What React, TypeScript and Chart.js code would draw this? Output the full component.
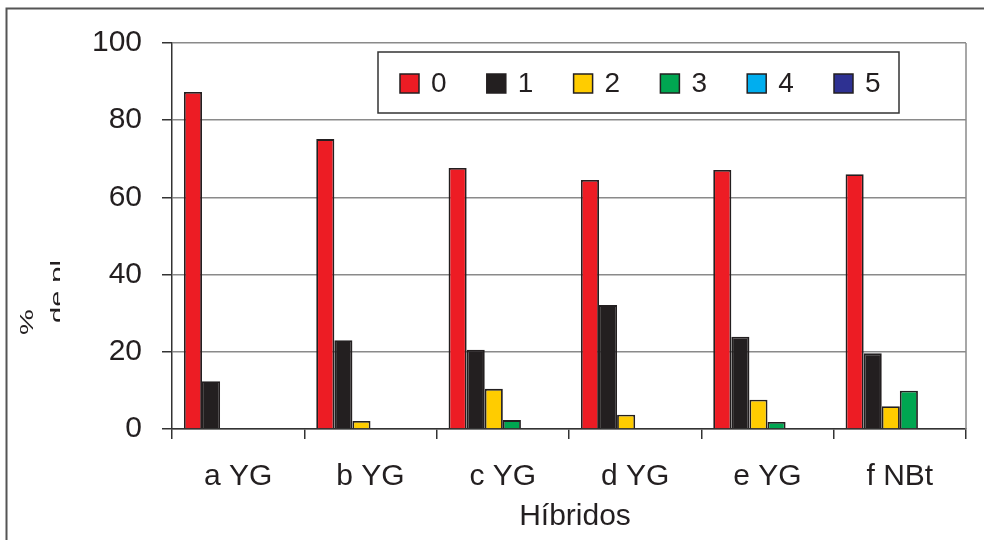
import React, { useEffect, useRef } from "react";
import { Chart, registerables } from "chart.js";

Chart.register(...registerables);

// Hybrids on the category axis
const categories = ["a YG", "b YG", "c YG", "d YG", "e YG", "f NBt"];

// Share of plants (%) in each damage class 0..5
const class0 = [87.3, 75.1, 67.6, 64.5, 67.1, 66.0];
const class1 = [12.4, 23.0, 20.5, 32.1, 23.9, 19.6];
const class2 = [0, 2.1, 10.4, 3.7, 7.6, 5.9];
const class3 = [0, 0, 2.3, 0, 1.8, 9.9];
const class4 = [0, 0, 0, 0, 0, 0];
const class5 = [0, 0, 0, 0, 0, 0];

const classLabels = ["0", "1", "2", "3", "4", "5"];
const classColors = ["#ed1c24", "#231f20", "#ffcc00", "#00a651", "#00aeef", "#2e3192"];

const yTicks = [0, 20, 40, 60, 80, 100];

const FONT = "'Liberation Sans', Arial, sans-serif";
const INK = "#231f20";

// Frame, plot border, axis titles and the boxed legend
const decorations = {
  id: "decorations",
  beforeDraw(chart: any) {
    const { ctx, width, height } = chart;
    ctx.save();
    ctx.fillStyle = "#ffffff";
    ctx.fillRect(0, 0, width, height);
    ctx.strokeStyle = "#555555";
    ctx.lineWidth = 2;
    ctx.beginPath();
    ctx.moveTo(6.5, height);
    ctx.lineTo(6.5, 8.5);
    ctx.lineTo(width, 8.5);
    ctx.stroke();
    ctx.restore();
  },
  afterDraw(chart: any) {
    const { ctx, chartArea } = chart;
    ctx.save();

    // right edge of the plot
    ctx.strokeStyle = "#8a8a8a";
    ctx.lineWidth = 1.5;
    ctx.beginPath();
    ctx.moveTo(chartArea.right, chartArea.top);
    ctx.lineTo(chartArea.right, chartArea.bottom);
    ctx.stroke();

    // x axis title
    ctx.fillStyle = INK;
    ctx.font = `30px ${FONT}`;
    ctx.textAlign = "center";
    ctx.textBaseline = "middle";
    ctx.fillText("Híbridos", 575, 517);

    // y axis title (condensed), its second line cut off by the title box
    ctx.font = `29px ${FONT}`;
    ctx.textBaseline = "alphabetic";
    ctx.save();
    ctx.translate(33, 322);
    ctx.scale(0.62, 1);
    ctx.rotate(-Math.PI / 2);
    ctx.textAlign = "center";
    ctx.fillText("%", 0, 0);
    ctx.restore();

    ctx.save();
    ctx.beginPath();
    ctx.rect(46, 240, 14, 100);
    ctx.clip();
    ctx.translate(63, 323);
    ctx.scale(0.62, 1);
    ctx.rotate(-Math.PI / 2);
    ctx.textAlign = "left";
    ctx.fillText("de pl", 0, 0);
    ctx.restore();

    // legend box
    ctx.strokeStyle = "#333333";
    ctx.lineWidth = 1.5;
    ctx.fillStyle = "#ffffff";
    ctx.fillRect(378, 52, 521, 61);
    ctx.strokeRect(378, 52, 521, 61);

    ctx.font = `28px ${FONT}`;
    ctx.textAlign = "left";
    ctx.textBaseline = "middle";
    chart.data.datasets.forEach((ds: any, i: number) => {
      const x = 400 + i * 86.8;
      ctx.fillStyle = ds.backgroundColor;
      ctx.fillRect(x, 74, 19, 19);
      ctx.strokeStyle = INK;
      ctx.lineWidth = 1.5;
      ctx.strokeRect(x, 74, 19, 19);
      ctx.fillStyle = INK;
      ctx.fillText(ds.label, x + 31, 84);
    });

    ctx.restore();
  },
};

export default function App() {
  const canvasRef = useRef<HTMLCanvasElement | null>(null);

  useEffect(() => {
    if (!canvasRef.current) return;
    const series = [class0, class1, class2, class3, class4, class5];
    const chart = new Chart(canvasRef.current, {
      type: "bar",
      data: {
        labels: categories,
        datasets: series.map((values, i) => ({
          label: classLabels[i],
          data: values,
          backgroundColor: classColors[i],
          borderColor: INK,
          borderWidth: 1.8,
          categoryPercentage: 0.82,
          barPercentage: 1,
        })),
      },
      options: {
        animation: false,
        responsive: true,
        maintainAspectRatio: false,
        events: [],
        layout: { padding: { top: 43, right: 18, left: 0, bottom: 0 } },
        plugins: {
          legend: { display: false },
          tooltip: { enabled: false },
        },
        scales: {
          x: {
            afterFit: (scale: any) => {
              scale.height = 111;
            },
            grid: {
              offset: true,
              drawOnChartArea: false,
              tickLength: 10,
              tickColor: "#333333",
              lineWidth: 1.5,
            },
            border: { color: "#333333", width: 1.5 },
            ticks: {
              color: INK,
              font: { family: FONT, size: 30 },
              padding: 20,
              maxRotation: 0,
            },
          },
          y: {
            min: 0,
            max: 100,
            afterFit: (scale: any) => {
              scale.width = 172;
            },
            afterBuildTicks: (scale: any) => {
              scale.ticks = yTicks.map((v) => ({ value: v }));
            },
            grid: {
              color: "#8a8a8a",
              lineWidth: 1.5,
              tickLength: 10,
              tickColor: "#333333",
            },
            border: { color: "#333333", width: 1.5 },
            ticks: {
              color: INK,
              font: { family: FONT, size: 30 },
              padding: 20,
            },
          },
        },
      },
      plugins: [decorations],
    });
    return () => chart.destroy();
  }, []);

  return (
    <div style={{ position: "fixed", left: 0, top: 0, width: 984, height: 540, background: "#fff" }}>
      <canvas ref={canvasRef} />
    </div>
  );
}
